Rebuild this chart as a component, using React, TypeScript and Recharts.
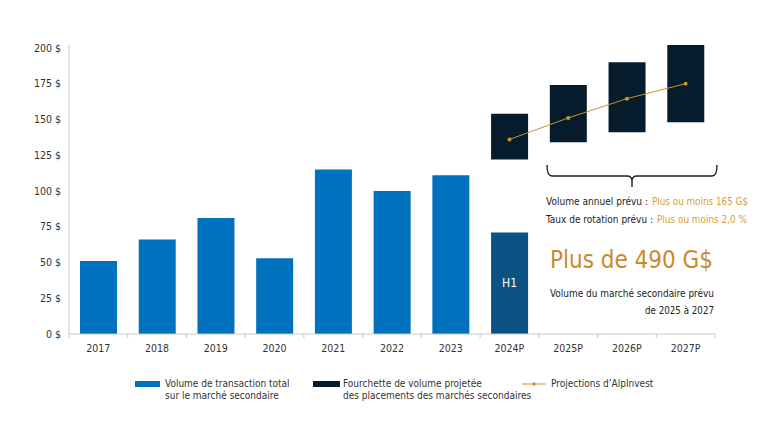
import React from 'react';
import { ComposedChart, Bar, Line, XAxis, YAxis, Legend, LabelList, Cell } from 'recharts';

const years = ['2017', '2018', '2019', '2020', '2021', '2022', '2023', '2024P', '2025P', '2026P', '2027P'];
const totalVolume: (number | null)[] = [51, 66, 81, 53, 115, 100, 111, 71, null, null, null];
const rangeLow: (number | null)[] = [null, null, null, null, null, null, null, 122, 134, 141, 148];
const rangeHigh: (number | null)[] = [null, null, null, null, null, null, null, 154, 174, 190, 202];
const projection: (number | null)[] = [null, null, null, null, null, null, null, 136, 151, 164.5, 175];
const yTicks = [0, 25, 50, 75, 100, 125, 150, 175, 200];

const BLUE = '#0071bc';
const H1_BLUE = '#0b5184';
const NAVY = '#061b2b';
const GOLD = '#c8952e';
const GOLD_TEXT = '#d79c3a';
const BIG_GOLD = '#c98a2c';
const FONT = '"DejaVu Sans Condensed", "DejaVu Sans", sans-serif';

const data = years.map((y, i) => ({
  year: y,
  total: totalVolume[i],
  range: rangeLow[i] != null && rangeHigh[i] != null ? [rangeLow[i], rangeHigh[i]] : null,
  projection: projection[i],
}));

const XTick = (props: any) => {
  const { x, y, payload, width, visibleTicksCount, index } = props;
  const bw = width / visibleTicksCount;
  const axisY = y - 11;
  return (
    <g>
      <line x1={x - bw / 2} x2={x - bw / 2} y1={axisY} y2={axisY + 4} stroke="#c8c8c8" />
      {index === visibleTicksCount - 1 && (
        <line x1={x + bw / 2} x2={x + bw / 2} y1={axisY} y2={axisY + 4} stroke="#c8c8c8" />
      )}
      <text x={x} y={y} dy="0.71em" textAnchor="middle" fill="#333" fontSize={10.5} fontFamily={FONT}>
        {payload.value}
      </text>
    </g>
  );
};

const H1Label = (props: any) => {
  const { x, y, width, height, index } = props;
  if (index !== 7) return null;
  return (
    <text x={x + width / 2} y={y + height / 2} dy="0.35em" textAnchor="middle" fill="#ffffff" fontSize={12} fontFamily={FONT}>
      H1
    </text>
  );
};

const LegendContent = () => {
  const txt: React.CSSProperties = { fontFamily: FONT, fontSize: 10, color: '#333', lineHeight: '12px', whiteSpace: 'nowrap' };
  return (
    <div style={{ position: 'relative', width: 768, height: 40 }}>
      <div style={{ position: 'absolute', left: 135, top: 3, width: 25, height: 6, background: BLUE }} />
      <div style={{ ...txt, position: 'absolute', left: 165, top: 0 }}>
        Volume de transaction total<br />sur le marché secondaire
      </div>
      <div style={{ position: 'absolute', left: 313, top: 3, width: 27, height: 6, background: NAVY }} />
      <div style={{ ...txt, position: 'absolute', left: 343, top: 0 }}>
        Fourchette de volume projetée<br />des placements des marchés secondaires
      </div>
      <svg style={{ position: 'absolute', left: 522, top: 1 }} width={24} height={10}>
        <line x1={0} x2={24} y1={5} y2={5} stroke={GOLD} strokeWidth={1} />
        <circle cx={12} cy={5} r={1.8} fill={GOLD} />
      </svg>
      <div style={{ ...txt, position: 'absolute', left: 551, top: 0 }}>Projections d’AlpInvest</div>
    </div>
  );
};

export default function App() {
  return (
    <div style={{ position: 'absolute', left: 0, top: 0, width: 768, height: 437, background: '#fff' }}>
      <ComposedChart width={768} height={437} data={data} margin={{ top: 45, right: 53, bottom: 33, left: 0 }}>
        <XAxis
          xAxisId="a"
          dataKey="year"
          height={30}
          tickLine={false}
          tickMargin={5}
          axisLine={{ stroke: '#c8c8c8' }}
          tick={<XTick />}
          interval={0}
        />
        <XAxis xAxisId="b" dataKey="year" hide />
        <YAxis
          domain={[0, 202]}
          ticks={yTicks}
          width={69}
          tickLine={false}
          axisLine={{ stroke: '#c8c8c8' }}
          tickFormatter={(v: number) => `${v} $`}
          tick={{ fill: '#333', fontSize: 10.5, fontFamily: FONT }}
        />
        <Bar xAxisId="a" dataKey="total" barSize={37} isAnimationActive={false} fill={BLUE}>
          {data.map((d, i) => (
            <Cell key={d.year} fill={i === 7 ? H1_BLUE : BLUE} />
          ))}
          <LabelList dataKey="total" content={<H1Label />} />
        </Bar>
        <Bar xAxisId="b" dataKey="range" barSize={37} isAnimationActive={false} fill={NAVY} />
        <Line
          xAxisId="a"
          dataKey="projection"
          stroke={GOLD}
          strokeWidth={1}
          dot={{ r: 2, fill: GOLD, stroke: GOLD, strokeWidth: 0 }}
          activeDot={false}
          isAnimationActive={false}
        />
        <Legend
          verticalAlign="bottom"
          content={<LegendContent />}
          wrapperStyle={{ top: 378, left: 0, bottom: 'auto', width: 768, height: 40 }}
        />
      </ComposedChart>
      <svg
        width={768}
        height={437}
        style={{ position: 'absolute', left: 0, top: 0, pointerEvents: 'none' }}
        fontFamily={FONT}
      >
        <path
          d="M 547 165 Q 547 176 552 176 L 627 176 Q 632 176 632 181 L 632 187 M 632 181 Q 632 176 637 176 L 712 176 Q 717 176 717 165"
          fill="none"
          stroke="#222"
          strokeWidth={1.4}
        />
        <text x={546} y={205} fontSize={11} fill="#222" textLength={102} lengthAdjust="spacingAndGlyphs">
          Volume annuel prévu :
        </text>
        <text x={652} y={205} fontSize={11} fill={GOLD_TEXT} textLength={96} lengthAdjust="spacingAndGlyphs">
          Plus ou moins 165 G$
        </text>
        <text x={546} y={223} fontSize={11} fill="#222" textLength={107} lengthAdjust="spacingAndGlyphs">
          Taux de rotation prévu :
        </text>
        <text x={657} y={223} fontSize={11} fill={GOLD_TEXT} textLength={90} lengthAdjust="spacingAndGlyphs">
          Plus ou moins 2,0 %
        </text>
        <text x={713} y={268} fontSize={24} fill={BIG_GOLD} textAnchor="end" textLength={163} lengthAdjust="spacingAndGlyphs">
          Plus de 490 G$
        </text>
        <text x={714} y={297} fontSize={11} fill="#222" textAnchor="end" textLength={164} lengthAdjust="spacingAndGlyphs">
          Volume du marché secondaire prévu
        </text>
        <text x={714} y={314} fontSize={11} fill="#222" textAnchor="end" textLength={69} lengthAdjust="spacingAndGlyphs">
          de 2025 à 2027
        </text>
      </svg>
    </div>
  );
}
